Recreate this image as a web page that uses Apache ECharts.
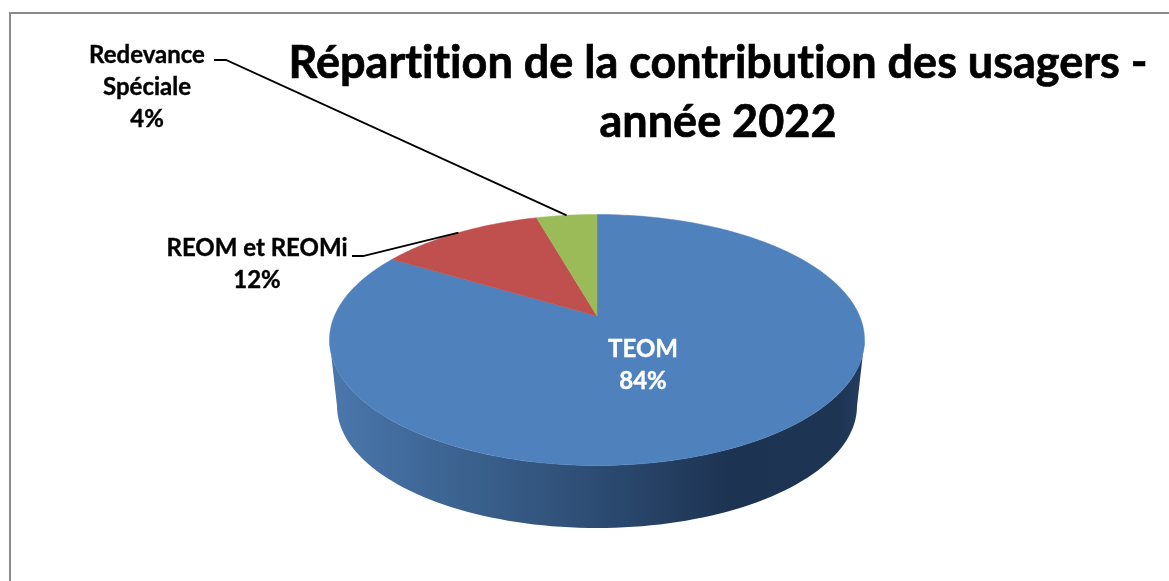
<!DOCTYPE html>
<html>
<head>
<meta charset="utf-8">
<style>html,body{margin:0;padding:0;background:#fff}#c{width:1169px;height:581px}</style>
<script src="https://cdn.jsdelivr.net/npm/echarts@6/dist/echarts.min.js"></script>
</head>
<body>
<div id="c"></div>
<script>
const titleText = "Répartition de la contribution des usagers -\nannée 2022";
const categories = ["TEOM", "REOM et REOMi", "Redevance\nSpéciale"];
const values = [83.6, 12.0, 4.4];
const colors = ["#4f81bd", "#c0504d", "#9bbb59"];

const FONT = "Lato, Carlito, sans-serif";
const top3d = {cx: 597, cy: 340, rx: 267.5, ry: 125.5, apexY: 316};
const bottom3d = {cx: 597, cy: 406, rx: 260, ry: 122};
const labelLayout = [
  {x: 643, y: 365, color: "#fff"},
  {x: 257, y: 264, color: "#000", leader: [[352, 256], [363, 256]]},
  {x: 147, y: 87, color: "#000", leader: [[214, 60], [226, 60]]}
];

// Calibri-like rendering: no "ti" ligature in canvas text
const nativeGetContext = HTMLCanvasElement.prototype.getContext;
HTMLCanvasElement.prototype.getContext = function () {
  const ctx = nativeGetContext.apply(this, arguments);
  if (ctx && "textRendering" in ctx) ctx.textRendering = "optimizeSpeed";
  return ctx;
};

const total = values.reduce((a, b) => a + b, 0);
const pk = (top3d.cy - top3d.apexY) / top3d.ry;
const pp = pk / (1 + Math.sqrt(1 - pk * pk));

// Rim point of the perspective-projected disc for a share of the turn (clockwise from 12 o'clock)
function rim(frac) {
  const t = frac * 2 * Math.PI;
  const a = Math.sin(t), b = Math.cos(t);
  const nr = a, ni = b + pp;
  const dr = 1 + pp * b, di = -pp * a;
  const d = dr * dr + di * di;
  const u = (nr * dr + ni * di) / d;
  const v = (ni * dr - nr * di) / d;
  return [top3d.cx + u * top3d.rx, top3d.cy - v * top3d.ry];
}
function wedge(f0, f1) {
  const pts = [[top3d.cx, top3d.apexY]];
  const n = Math.max(8, Math.ceil((f1 - f0) * 360));
  for (let i = 0; i <= n; i++) pts.push(rim(f0 + (f1 - f0) * i / n));
  return pts;
}
function sidePoints() {
  const pts = [];
  for (let a = 180; a >= 0; a -= 2) {
    const r = a * Math.PI / 180;
    pts.push([bottom3d.cx + bottom3d.rx * Math.cos(r), bottom3d.cy + bottom3d.ry * Math.sin(r)]);
  }
  for (let a = 0; a <= 180; a += 2) {
    const r = a * Math.PI / 180;
    pts.push([top3d.cx + top3d.rx * Math.cos(r), top3d.cy + top3d.ry * Math.sin(r)]);
  }
  return pts;
}

const sideGradient = {
  type: "linear", x: 0, y: 0, x2: 1, y2: 0,
  colorStops: [
    {offset: 0, color: "#4a77ad"},
    {offset: 0.25, color: "#3b628f"},
    {offset: 0.5, color: "#2d4c73"},
    {offset: 0.75, color: "#1d3352"},
    {offset: 0.95, color: "#1e3453"},
    {offset: 1, color: "#243d60"}
  ]
};

function renderItem(params, api) {
  const i = params.dataIndex;
  const v = api.value(0);
  let before = 0;
  for (let k = 0; k < i; k++) before += values[k];
  const f0 = before / total, f1 = (before + v) / total;
  const children = [];
  if (i === 0) {
    children.push({type: "polygon", shape: {points: sidePoints()}, style: {fill: sideGradient}});
  }
  children.push({
    type: "polygon", shape: {points: wedge(f0, f1)},
    style: {fill: colors[i], stroke: colors[i], lineWidth: 0.5}
  });
  const lay = labelLayout[i];
  if (lay.leader) {
    const end = rim((f0 + f1) / 2);
    children.push({
      type: "polyline",
      shape: {points: lay.leader.concat([end])},
      style: {fill: null, stroke: "#000", lineWidth: 1.8}
    });
  }
  children.push({
    type: "text",
    style: {
      x: lay.x, y: lay.y,
      text: categories[i] + "\n" + Math.round(v) + "%",
      fill: lay.color,
      stroke: lay.color,
      lineWidth: 0.4,
      font: "bold 24px " + FONT,
      lineHeight: 32,
      align: "center", verticalAlign: "middle"
    }
  });
  return {type: "group", children};
}

const chart = echarts.init(document.getElementById("c"), null, {renderer: "canvas"});
chart.setOption({
  animation: false,
  backgroundColor: "#fff",
  title: {
    text: titleText,
    left: 713, top: 29, textAlign: "center",
    textStyle: {
      fontFamily: FONT, fontWeight: "bold", fontSize: 45, lineHeight: 59, color: "#000",
      textBorderColor: "#000", textBorderWidth: 0.7
    }
  },
  graphic: [{
    type: "rect", z: -1,
    shape: {x: 10, y: 13, width: 1200, height: 620},
    style: {fill: "#fff", stroke: "#8a8a8a", lineWidth: 2}
  }],
  series: [{
    type: "custom",
    coordinateSystem: "none",
    renderItem,
    clip: false,
    data: values.map((v, i) => ({name: categories[i], value: [v]}))
  }]
});
</script>
</body>
</html>
